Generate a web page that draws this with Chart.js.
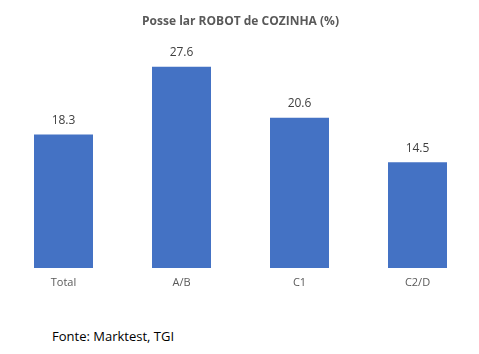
<!DOCTYPE html>
<html>
<head>
<meta charset="utf-8">
<script src="https://cdn.jsdelivr.net/npm/chart.js@4"></script>
<style>
	body { margin: 0; background: #fff; }
	#wrap { position: relative; width: 479px; height: 308px; }
	#fonte { position: absolute; left: 52px; top: 327px; font-family: "Open Sans", sans-serif; font-size: 13px; color: #000; }
</style>
</head>
<body>
<div id="wrap"><canvas id="myChart"></canvas></div>
<div id="fonte">Fonte: Marktest, TGI</div>
<script>
const categories = ["Total", "A/B", "C1", "C2/D"];
const values = [18.3, 27.6, 20.6, 14.5];

// value labels above each bar
const barLabels = {
	id: "barLabels",
	afterDatasetsDraw(chart) {
		const ctx = chart.ctx;
		const meta = chart.getDatasetMeta(0);
		ctx.save();
		ctx.font = "12px 'Open Sans', sans-serif";
		ctx.fillStyle = "#404040";
		ctx.textAlign = "center";
		ctx.textBaseline = "middle";
		meta.data.forEach((bar, i) => {
			ctx.fillText(values[i].toFixed(1), bar.x, bar.y - 14);
		});
		ctx.restore();
	}
};

const myChart = new Chart(document.getElementById("myChart"), {
	type: "bar",
	data: {
		labels: categories,
		datasets: [{
			data: values,
			backgroundColor: "#4472C4",
			categoryPercentage: 1,
			barPercentage: 0.5
		}]
	},
	options: {
		responsive: true,
		maintainAspectRatio: false,
		animation: false,
		layout: { padding: { left: 4.5, right: 2.5, top: 0, bottom: 18.8 } },
		plugins: {
			legend: { display: false },
			tooltip: { enabled: false },
			title: {
				display: true,
				text: "Posse lar ROBOT de COZINHA (%)",
				color: "#595959",
				font: { family: "'Open Sans', sans-serif", size: 12, weight: "bold" },
				padding: { top: 14, bottom: 20.8 }
			}
		},
		scales: {
			x: {
				grid: { display: false },
				border: { display: false },
				ticks: { color: "#595959", font: { family: "'Open Sans', sans-serif", size: 11 }, padding: 0 }
			},
			y: {
				display: false,
				min: 0,
				max: 30
			}
		}
	},
	plugins: [barLabels]
});
</script>
</body>
</html>
